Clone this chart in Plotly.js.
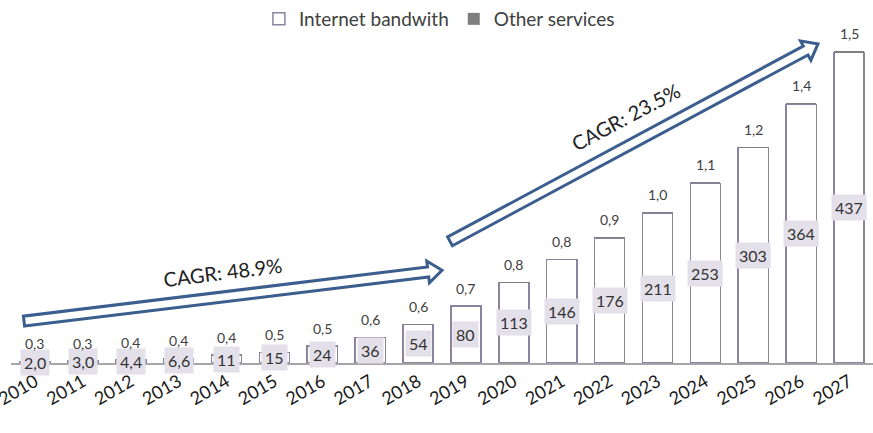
<!DOCTYPE html>
<html>
<head>
<meta charset="utf-8">
<script src="https://cdn.plot.ly/plotly-3.0.1.min.js"></script>
<style>html,body{margin:0;padding:0;background:#fff;}#chart{width:873px;height:433px;}</style>
</head>
<body>
<div id="chart"></div>
<script>
const years = ['2010','2011','2012','2013','2014','2015','2016','2017','2018','2019','2020','2021','2022','2023','2024','2025','2026','2027'];
const bandwidth = [2.0,3.0,4.4,6.6,11,15,24,36,54,80,113,146,176,211,253,303,364,437];
const otherServices = [0.3,0.3,0.4,0.4,0.4,0.5,0.5,0.6,0.6,0.7,0.8,0.8,0.9,1.0,1.1,1.2,1.4,1.5];
const cagrLabels = ['CAGR: 48.9%', 'CAGR: 23.5%'];

const W = 873, H = 433;
const M = {l: 11, r: 0, t: 21, b: 70};
const FONT = 'Lato, "Open Sans", sans-serif';

function fmt(v) { return v < 10 ? v.toFixed(1).replace('.', ',') : String(v); }

const traces = [
  {
    type: 'bar', name: 'Internet bandwith', x: years, y: bandwidth,
    marker: {color: '#ffffff', line: {color: '#8b84a0', width: 1.5}},
    hoverinfo: 'x+y'
  },
  {
    type: 'bar', name: 'Other services', x: years, y: otherServices,
    marker: {color: '#7f7f7f', line: {width: 0}},
    hoverinfo: 'x+y'
  }
];

const annotations = [];
years.forEach((yr, i) => {
  annotations.push({
    x: i, y: bandwidth[i] / 2, xref: 'x', yref: 'y',
    text: fmt(bandwidth[i]), showarrow: false,
    bgcolor: '#e4e0ea', borderpad: 3,
    font: {family: FONT, size: 16, color: '#333333'}
  });
  annotations.push({
    x: i, y: bandwidth[i] + otherServices[i], xref: 'x', yref: 'y',
    text: otherServices[i].toFixed(1).replace('.', ','), showarrow: false,
    yanchor: 'bottom', yshift: 7,
    font: {family: FONT, size: 14, color: '#404040'}
  });
});

// Decorative CAGR arrows (pixel geometry converted to paper coordinates)
const pw = W - M.l - M.r, ph = H - M.t - M.b;
function toPaper(p) { return [(p[0] - M.l) / pw, (H - M.b - p[1]) / ph]; }
function arrowPath(tail, tip, hw, hh, hl) {
  const dx = tip[0] - tail[0], dy = tip[1] - tail[1];
  const len = Math.hypot(dx, dy);
  const ux = dx / len, uy = dy / len, nx = -uy, ny = ux;
  const bx = tip[0] - ux * hl, by = tip[1] - uy * hl;
  const pts = [
    [tail[0] + nx * hw, tail[1] + ny * hw],
    [bx + nx * hw, by + ny * hw],
    [bx + nx * hh, by + ny * hh],
    tip,
    [bx - nx * hh, by - ny * hh],
    [bx - nx * hw, by - ny * hw],
    [tail[0] - nx * hw, tail[1] - ny * hw]
  ].map(toPaper);
  return 'M' + pts.map(p => p[0].toFixed(5) + ',' + p[1].toFixed(5)).join(' L') + ' Z';
}
const arrows = [
  {tail: [24, 321], tip: [442, 270]},
  {tail: [450, 241], tip: [818, 43]}
];
const shapes = arrows.map(a => ({
  type: 'path', xref: 'paper', yref: 'paper',
  path: arrowPath(a.tail, a.tip, 5, 11, 14),
  fillcolor: '#ffffff', line: {color: '#3b5e8e', width: 3}
}));

const cagrPos = [[222, 272, -7], [625, 116, -28]];
cagrLabels.forEach((t, i) => {
  const p = toPaper(cagrPos[i]);
  annotations.push({
    x: p[0], y: p[1], xref: 'paper', yref: 'paper', text: t, showarrow: false,
    xanchor: 'center', yanchor: 'middle',
    textangle: cagrPos[i][2],
    font: {family: FONT, size: 20, color: '#222222'}
  });
});

const layout = {
  width: W, height: H,
  margin: M,
  paper_bgcolor: '#ffffff', plot_bgcolor: '#ffffff',
  barmode: 'stack', bargap: 0.37,
  font: {family: FONT, color: '#404040'},
  showlegend: true,
  legend: {
    orientation: 'h', x: 0.497, xanchor: 'center', y: 1.01, yanchor: 'middle',
    traceorder: 'normal', itemwidth: 30,
    font: {family: FONT, size: 19, color: '#404040'},
    bgcolor: 'rgba(0,0,0,0)'
  },
  xaxis: {
    type: 'category', range: [-0.5, 17.5],
    showline: true, linecolor: '#a6a6a6', linewidth: 1.5,
    ticks: '', showgrid: false, zeroline: false,
    tickangle: -30,
    tickfont: {family: FONT, size: 18, color: '#1a1a1a'}
  },
  yaxis: {
    range: [0, 480], visible: false, showgrid: false, zeroline: false
  },
  annotations: annotations,
  shapes: shapes
};

Plotly.newPlot('chart', traces, layout, {displayModeBar: false, staticPlot: true});
</script>
</body>
</html>
